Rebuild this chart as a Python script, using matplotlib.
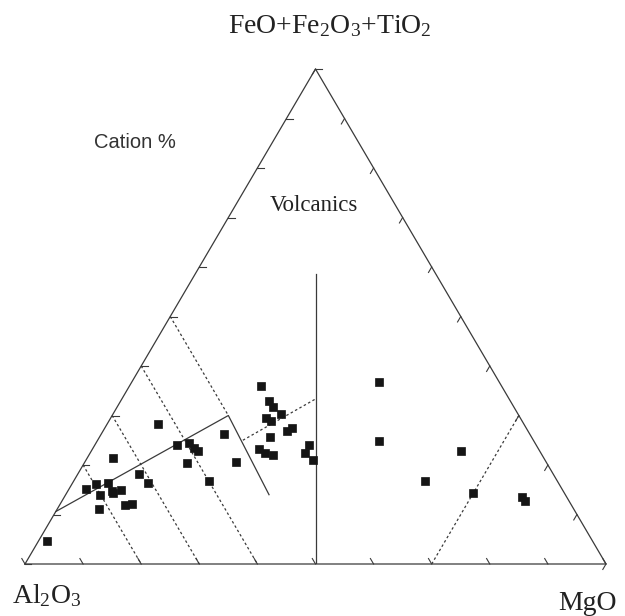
import numpy as np
import matplotlib
matplotlib.use("Agg")
import matplotlib.pyplot as plt

plt.rcParams['mathtext.fontset'] = 'custom'
plt.rcParams['mathtext.rm'] = 'Liberation Serif'
plt.rcParams['mathtext.it'] = 'Liberation Serif:italic'

# cation % : Al2O3, FeO+Fe2O3+TiO2, MgO
al = [93.9, 74.1, 71.4, 70.6, 81.9, 79.8, 77.5, 77.7, 77.6, 75.9, 80.1, 81.7, 76.8, 75.6,
      63.0, 52.6, 61.9, 59.6, 59.2, 58.9, 61.8, 53.4, 59.9,
      41.4, 41.5, 41.5, 40.8, 43.9, 43.3, 40.4, 41.4, 45.0, 48.1, 47.5, 46.4, 39.0, 40.6, 40.0,
      20.6, 26.6, 13.5, 22.7, 15.8, 7.7, 7.5]
fe = [4.6, 21.4, 18.1, 16.3, 15.2, 16.1, 16.3, 14.8, 14.4, 15.0, 13.9, 11.1, 11.9, 12.1,
      28.2, 26.3, 24.0, 24.5, 23.4, 22.8, 20.5, 20.6, 16.8,
      36.0, 33.0, 31.7, 30.3, 29.4, 28.8, 27.4, 26.9, 25.6, 23.2, 22.4, 22.0, 24.1, 22.4, 21.0,
      36.8, 24.9, 22.9, 16.8, 14.3, 13.6, 12.8]
mg = [100 - a - f for a, f in zip(al, fe)]

# field boundaries (Al, Fe, Mg)
solid_lines = [
    [(89.4, 10.6, 0.0), (50.0, 30.0, 20.0), (51.0, 14.0, 35.0)],
    [(50.0, 0.0, 50.0), (20.7, 58.6, 20.7)],
]
dotted_lines = [
    [(50.0, 50.0, 0.0), (50.0, 30.0, 20.0)],
    [(60.0, 40.0, 0.0), (60.0, 0.0, 40.0)],
    [(70.0, 30.0, 0.0), (70.0, 0.0, 30.0)],
    [(80.0, 20.0, 0.0), (80.0, 0.0, 20.0)],
    [(50.0, 25.0, 25.0), (33.3, 33.3, 33.3)],
    [(30.0, 0.0, 70.0), (0.0, 30.0, 70.0)],
]


def tern(a, f, m):
    a, f, m = np.asarray(a, float), np.asarray(f, float), np.asarray(m, float)
    s = a + f + m
    return 100 * (m + f / 2) / s, 100 * f / s


fig = plt.figure(figsize=(6.25, 6.16), dpi=100)
ax = fig.add_axes([25 / 625, 52 / 616, 581 / 625, 495 / 616])
ax.set_xlim(0, 100)
ax.set_ylim(0, 100)
ax.axis('off')

lc = '#3a3a3a'
x, y = tern([100, 0, 0, 100], [0, 100, 0, 0], [0, 0, 100, 0])
ax.plot(x, y, color=lc, lw=0.9, clip_on=False)

# ticks every 10 %
tl = 1.1
for k in range(0, 101, 10):
    # base: along constant Al
    x0, y0 = tern(100 - k, 0, k)
    x1, y1 = tern(100 - k, tl, k - tl)
    ax.plot([x0, x1], [y0, y1], color=lc, lw=0.8, clip_on=False)
    # left side: along constant Fe
    x0, y0 = tern(100 - k, k, 0)
    x1, y1 = tern(100 - k - tl, k, tl)
    ax.plot([x0, x1], [y0, y1], color=lc, lw=0.8, clip_on=False)
    # right side: along constant Mg
    x0, y0 = tern(0, k, 100 - k)
    x1, y1 = tern(tl, k - tl, 100 - k)
    ax.plot([x0, x1], [y0, y1], color=lc, lw=0.8, clip_on=False)

for ln in solid_lines:
    a, f, m = zip(*ln)
    x, y = tern(a, f, m)
    ax.plot(x, y, color=lc, lw=0.9)
for ln in dotted_lines:
    a, f, m = zip(*ln)
    x, y = tern(a, f, m)
    ax.plot(x, y, color=lc, lw=0.9, linestyle=(0, (2, 2)))

x, y = tern(al, fe, mg)
ax.plot(x, y, 's', ms=6.3, mew=0.5, color='#151515', mec='#151515', clip_on=False)

fig.text(330 / 625, 1 - 33 / 616, 'FeO+Fe$_2$O$_3$+TiO$_2$', ha='center', va='baseline',
         family='Liberation Serif', fontsize=20, color='#222222')
fig.text(135 / 625, 1 - 148 / 616, 'Cation %', ha='center', va='baseline',
         family='Liberation Sans', fontsize=14.5, color='#333333')
fig.text(314 / 625, 1 - 211 / 616, 'Volcanics', ha='center', va='baseline',
         family='Liberation Serif', fontsize=16.5, color='#222222')
fig.text(47 / 625, 1 - 603 / 616, 'Al$_2$O$_3$', ha='center', va='baseline',
         family='Liberation Serif', fontsize=20, color='#222222')
fig.text(587 / 625, 1 - 610 / 616, 'MgO', ha='center', va='baseline',
         family='Liberation Serif', fontsize=20, color='#222222')

fig.savefig('out.png', dpi=100, facecolor='white')
